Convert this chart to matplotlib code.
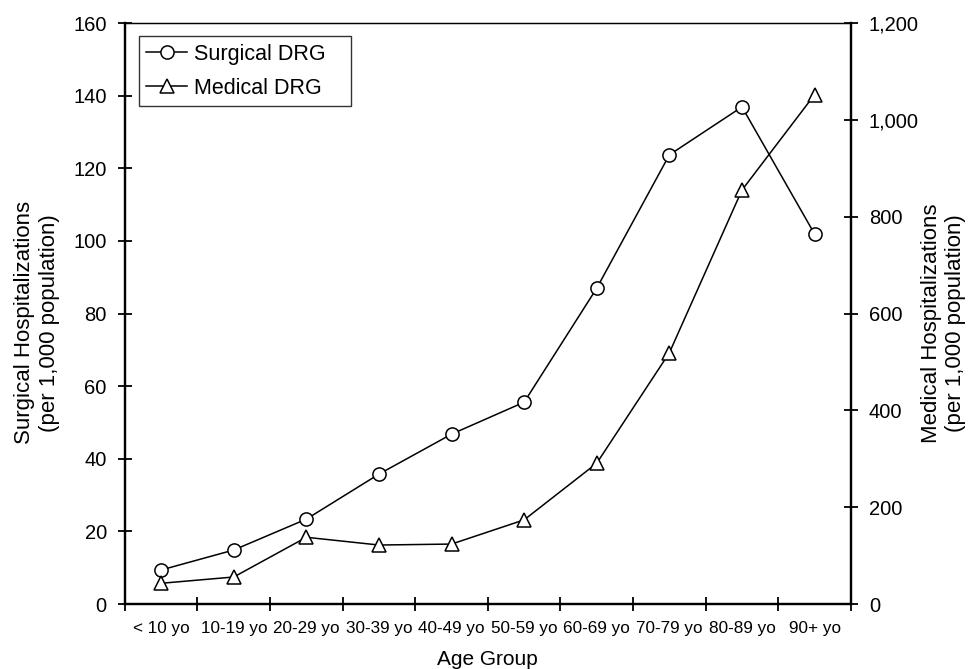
import numpy as np
import matplotlib.pyplot as plt
from matplotlib.ticker import FuncFormatter

plt.rcParams['font.family'] = ['Liberation Sans', 'DejaVu Sans']

age_groups = ['< 10 yo', '10-19 yo', '20-29 yo', '30-39 yo', '40-49 yo',
              '50-59 yo', '60-69 yo', '70-79 yo', '80-89 yo', '90+ yo']
surgical = [9.4, 14.9, 23.4, 35.8, 46.8, 55.6, 87.0, 123.7, 136.9, 101.9]
medical = [43, 56, 138, 122, 124, 174, 291, 519, 855, 1052]

x = np.arange(len(age_groups))

fig = plt.figure(figsize=(9.68, 6.69), dpi=100)
ax = fig.add_axes([0.129, 0.097, 0.75, 0.8686])
ax2 = ax.twinx()

l1, = ax.plot(x, surgical, color='black', lw=1.1, marker='o', ms=9.5,
              mfc='white', mec='black', mew=1.1, label='Surgical DRG', zorder=3)
l2, = ax2.plot(x, medical, color='black', lw=1.1, marker='^', ms=9.5,
               mfc='white', mec='black', mew=1.1, label='Medical DRG', zorder=3)

ax.set_xlim(-0.5, 9.5)
ax.set_ylim(0, 160)
ax2.set_ylim(0, 1200)

# ticks sit on category boundaries, labels in the middle
ax.set_xticks(np.arange(-0.5, 10, 1))
ax.set_xticklabels([])
ax.set_xticks(x, minor=True)
ax.set_xticklabels(age_groups, minor=True, fontsize=12.3)
ax.tick_params(axis='x', which='minor', length=0, pad=12)
ax.tick_params(axis='x', which='major', direction='inout', length=10, width=1.3)

ax.set_yticks(np.arange(0, 161, 20))
ax.tick_params(axis='y', direction='inout', length=10, width=1.3, labelsize=14.5, pad=8)
ax2.set_yticks(np.arange(0, 1201, 200))
ax2.yaxis.set_major_formatter(FuncFormatter(lambda v, p: f'{int(v):,}'))
ax2.tick_params(axis='y', direction='inout', length=10, width=1.3, labelsize=14.5, pad=8)

for a in (ax, ax2):
    for s in a.spines.values():
        s.set_linewidth(1.6)
    a.spines['top'].set_linewidth(0.9)

ax.set_xlabel('Age Group', fontsize=15)
ax.xaxis.set_label_coords(0.5, -0.079)
ax.set_ylabel('Surgical Hospitalizations\n(per 1,000 population)', fontsize=16)
ax.yaxis.set_label_coords(-0.09, 0.484)
ax2.set_ylabel('Medical Hospitalizations\n(per 1,000 population)', fontsize=16,
               rotation=90)
ax2.yaxis.set_label_coords(1.096, 0.484)

leg = ax.legend([l1, l2], ['Surgical DRG   ', 'Medical DRG   '], loc='upper left',
                bbox_to_anchor=(0.013, 0.985), fontsize=15.5, frameon=True,
                fancybox=False, edgecolor='black', handlelength=1.9,
                handletextpad=0.3, borderpad=0.35, labelspacing=0.62,
                borderaxespad=0.2)
leg.get_frame().set_linewidth(1.0)

fig.savefig('out.png', dpi=100)
